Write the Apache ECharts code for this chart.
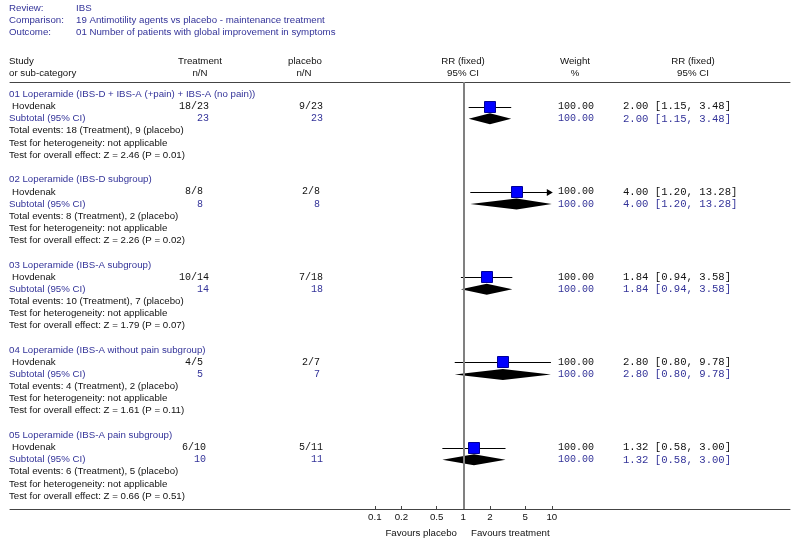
<!DOCTYPE html>
<html lang="en">
<head>
<meta charset="UTF-8">
<title>IBS - Antimotility agents vs placebo</title>
<script src="https://cdn.jsdelivr.net/npm/echarts@6/dist/echarts.min.js"></script>
<style>
    html, body { margin: 0; padding: 0; background: #fff; }
    #main { width: 800px; height: 542px; }
</style>
</head>
<body>
<div id="main"></div>
<script>
// ---- data ----
const review = 'IBS'
const comparison = '19 Antimotility agents vs placebo - maintenance treatment'
const outcome = '01 Number of patients with global improvement in symptoms'
const groupNames = [
    '01 Loperamide (IBS-D + IBS-A (+pain) + IBS-A (no pain))',
    '02 Loperamide (IBS-D subgroup)',
    '03 Loperamide (IBS-A subgroup)',
    '04 Loperamide (IBS-A without pain subgroup)',
    '05 Loperamide (IBS-A pain subgroup)'
]
const studyNames = ['Hovdenak', 'Hovdenak', 'Hovdenak', 'Hovdenak', 'Hovdenak']
const treatEvents = [18, 8, 10, 4, 6]
const treatTotal = [23, 8, 14, 5, 10]
const placeboEvents = [9, 2, 7, 2, 5]
const placeboTotal = [23, 8, 18, 7, 11]
const rr = [2.00, 4.00, 1.84, 2.80, 1.32]
const ciLow = [1.15, 1.20, 0.94, 0.80, 0.58]
const ciHigh = [3.48, 13.28, 3.58, 9.78, 3.00]
const weights = [100, 100, 100, 100, 100]
const zStats = [2.46, 2.26, 1.79, 1.61, 0.66]
const pValues = [0.01, 0.02, 0.07, 0.11, 0.51]
const tickValues = [0.1, 0.2, 0.5, 1, 2, 5, 10]

// ---- layout ----
const ROW_H = 12.1                 // px per text line
const GROUP_STEP = 85.25 / ROW_H   // rows from one group to the next
const GRID_TOP = 82, GRID_BOTTOM = 509, FIRST_ROW = 94.5
const DECADE = 88.5, ONE_X = 463.3 // px per log10 unit, px of RR = 1
const CLIP = Math.log10(10)        // plot is cut at RR = 10

const SANS = '9.7px "Liberation Sans", Arial, sans-serif'
const MONO = '10px "Liberation Mono", "Courier New", monospace'
const MONO_CI = '10.6px "Liberation Mono", "Courier New", monospace'
const BLUE = '#333399', INK = '#111'

const rowOf = (g, k) => g * GROUP_STEP + k

function txt(text, x, y, opt) {
    opt = opt || {}
    return {
        type: 'text',
        style: {
            text: text, x: x, y: y,
            font: opt.font || SANS,
            fill: opt.fill || INK,
            textAlign: opt.align || 'left', align: opt.align || 'left',
            textVerticalAlign: 'middle', verticalAlign: 'middle'
        }
    }
}

// text of each subgroup block, rows placed through the y axis
function renderTable(params, api) {
    const g = api.value(2), base = api.value(1)
    const y = k => api.coord([0, base + k])[1]
    const nN = treatEvents[g] + '/' + treatTotal[g]
    const pN = placeboEvents[g] + '/' + placeboTotal[g]
    const tRight = 194 + nN.length * 3, pRight = 311 + pN.length * 3
    const ci = rr[g].toFixed(2) + ' [' + ciLow[g].toFixed(2) + ', ' + ciHigh[g].toFixed(2) + ']'
    return {
        type: 'group',
        children: [
            txt(groupNames[g], 9, y(0), { fill: BLUE }),
            txt(studyNames[g], 12, y(1)),
            txt(nN, 194, y(1), { font: MONO, align: 'center' }),
            txt(pN, 311, y(1), { font: MONO, align: 'center' }),
            txt(weights[g].toFixed(2), 576, y(1), { font: MONO, align: 'center' }),
            txt(ci, 623, y(1), { font: MONO_CI }),
            txt('Subtotal (95% CI)', 9, y(2), { fill: BLUE }),
            txt(String(treatTotal[g]), tRight, y(2), { font: MONO, fill: BLUE, align: 'right' }),
            txt(String(placeboTotal[g]), pRight, y(2), { font: MONO, fill: BLUE, align: 'right' }),
            txt(weights[g].toFixed(2), 576, y(2), { font: MONO, fill: BLUE, align: 'center' }),
            txt(ci, 623, y(2), { font: MONO_CI, fill: BLUE }),
            txt('Total events: ' + treatEvents[g] + ' (Treatment), ' + placeboEvents[g] + ' (placebo)', 9, y(3)),
            txt('Test for heterogeneity: not applicable', 9, y(4)),
            txt('Test for overall effect: Z = ' + zStats[g].toFixed(2) + ' (P = ' + pValues[g].toFixed(2) + ')', 9, y(5))
        ]
    }
}

// study: CI line + square (arrow when the CI runs past 10)
function renderStudy(params, api) {
    const y = Math.round(api.coord([0, api.value(1)])[1]) + 0.5
    const x = api.coord([api.value(0), 0])[0]
    const lo = api.coord([api.value(2), 0])[0]
    const hiVal = api.value(3)
    const hi = api.coord([Math.min(hiVal, CLIP), 0])[0]
    const children = [{
        type: 'line',
        shape: { x1: lo, y1: y, x2: hi, y2: y },
        style: { stroke: '#000', lineWidth: 1 }
    }]
    if (hiVal > CLIP) {
        children.push({
            type: 'polygon',
            shape: { points: [[hi + 1, y], [hi - 5, y - 3.5], [hi - 5, y + 3.5]] },
            style: { fill: '#000' }
        })
    }
    children.push({
        type: 'rect',
        shape: { x: Math.round(x) - 5.5, y: y - 6, width: 11, height: 11 },
        style: { fill: '#0000ff', stroke: '#000099', lineWidth: 1 }
    })
    return { type: 'group', children: children }
}

// subtotal: pooled diamond
function renderDiamond(params, api) {
    const y = api.coord([0, api.value(1)])[1]
    const x = api.coord([api.value(0), 0])[0]
    const lo = api.coord([api.value(2), 0])[0]
    const hi = api.coord([Math.min(api.value(3), CLIP), 0])[0]
    return {
        type: 'polygon',
        shape: { points: [[lo, y], [x, y - 5.5], [hi, y], [x, y + 5.5]] },
        style: { fill: '#000' }
    }
}

const tableData = groupNames.map((n, g) => [0, rowOf(g, 0), g])
const studyData = rr.map((v, g) => [Math.log10(v), rowOf(g, 1), Math.log10(ciLow[g]), Math.log10(ciHigh[g])])
const totalData = rr.map((v, g) => [Math.log10(v), rowOf(g, 2), Math.log10(ciLow[g]), Math.log10(ciHigh[g])])

const xMin = (10 - ONE_X) / DECADE, xMax = (790 - ONE_X) / DECADE
const yMin = -(FIRST_ROW - GRID_TOP) / ROW_H, yMax = (GRID_BOTTOM - FIRST_ROW) / ROW_H

const header = [
    txt('Review:', 9, 8, { fill: BLUE }), txt(review, 76, 8, { fill: BLUE }),
    txt('Comparison:', 9, 20, { fill: BLUE }), txt(comparison, 76, 20, { fill: BLUE }),
    txt('Outcome:', 9, 32, { fill: BLUE }), txt(outcome, 76, 32, { fill: BLUE }),
    txt('Study', 9, 61), txt('or sub-category', 9, 73),
    txt('Treatment', 200, 61, { align: 'center' }), txt('n/N', 200, 73, { align: 'center' }),
    txt('placebo', 305, 61, { align: 'center' }), txt('n/N', 304, 73, { align: 'center' }),
    txt('RR (fixed)', 463, 61, { align: 'center' }), txt('95% CI', 463, 73, { align: 'center' }),
    txt('Weight', 575, 61, { align: 'center' }), txt('%', 575, 73, { align: 'center' }),
    txt('RR (fixed)', 693, 61, { align: 'center' }), txt('95% CI', 693, 73, { align: 'center' }),
    txt('Favours placebo', 457, 533, { align: 'right' }),
    txt('Favours treatment', 471, 533)
]

let chart = echarts.init(document.getElementById('main'))
chart.setOption({
    animation: false,
    backgroundColor: '#fff',
    graphic: header,
    grid: { left: 10, right: 10, top: GRID_TOP, bottom: 542 - GRID_BOTTOM },
    xAxis: [
        {
            type: 'value', min: xMin, max: xMax, position: 'bottom',
            splitLine: { show: false },
            axisLine: { onZero: false, lineStyle: { color: '#444', width: 1 } },
            axisTick: { inside: true, length: 3, lineStyle: { color: '#444' }, customValues: tickValues.map(Math.log10) },
            axisLabel: {
                customValues: tickValues.map(Math.log10),
                formatter: v => String(parseFloat(Math.pow(10, v).toPrecision(3))),
                color: INK, fontSize: 9.7, fontFamily: 'Liberation Sans', margin: 3
            }
        },
        {
            type: 'value', min: xMin, max: xMax, position: 'top',
            splitLine: { show: false },
            axisLine: { onZero: false, lineStyle: { color: '#444', width: 1 } },
            axisTick: { show: false }, axisLabel: { show: false }
        }
    ],
    yAxis: { type: 'value', inverse: true, min: yMin, max: yMax, show: false, splitLine: { show: false } },
    series: [
        {
            type: 'custom', name: 'line of no effect', data: [], renderItem: () => null,
            markLine: {
                silent: true, symbol: 'none', label: { show: false },
                lineStyle: { color: '#808080', width: 2, type: 'solid' },
                data: [{ xAxis: 0 }]
            }
        },
        { type: 'custom', name: 'table', data: tableData, renderItem: renderTable, silent: true },
        { type: 'custom', name: 'studies', data: studyData, renderItem: renderStudy, silent: true },
        { type: 'custom', name: 'subtotals', data: totalData, renderItem: renderDiamond, silent: true }
    ]
})
</script>
</body>
</html>
